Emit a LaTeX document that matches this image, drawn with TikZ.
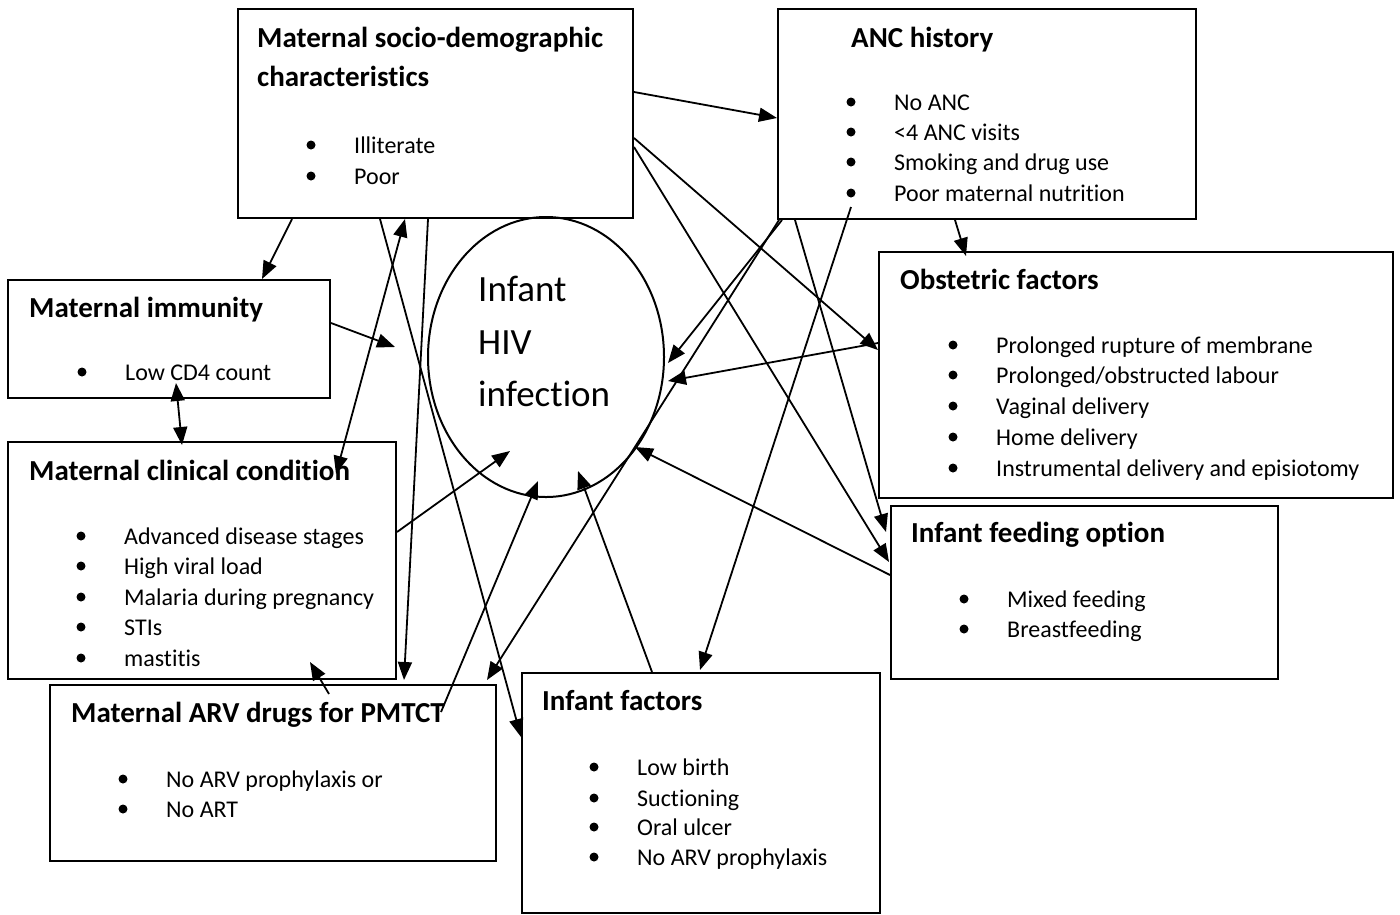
\documentclass[tikz,border=0pt]{standalone}
\usepackage{fontspec}
\setmainfont{Carlito}[Ligatures=NoCommon]
\usetikzlibrary{arrows.meta,calc,shapes.geometric}
\tikzset{
  box/.style={draw, line width=2pt, inner sep=0pt, anchor=north west},
  ttl/.style={inner sep=0pt, anchor=base west, font=\bfseries\fontsize{29}{34}\selectfont},
  itm/.style={inner sep=0pt, anchor=base west, font=\fontsize{24}{28}\selectfont},
  big/.style={inner sep=0pt, anchor=base west, font=\fontsize{37}{44}\selectfont},
  tipA/.tip={Triangle[length=18pt,width=14pt]},
  conn/.style={line width=1.8pt, -tipA},
  dconn/.style={line width=1.8pt, tipA-tipA},
}
\newcommand\bitem[3]{\node[itm] (#1) at (#2) {#3};
  \fill ($(#1.base west)+(-43,-8)$) circle (4.5);}
\begin{document}
\begin{tikzpicture}[x=1pt,y=-1pt]
\fill[white] (0,0) rectangle (1400,914);
\useasboundingbox (0,0) rectangle (1400,914);

% boxes
\node[box, minimum width=395pt, minimum height=209pt] (sd) at (237,8) {};
\node[box, minimum width=418pt, minimum height=210pt] (anc) at (777,8) {};
\node[box, minimum width=322pt, minimum height=118pt] (imm) at (7,279) {};
\node[box, minimum width=388pt, minimum height=237pt] (clin) at (7,441) {};
\node[box, minimum width=446pt, minimum height=176pt] (arv) at (49,684) {};
\node[box, minimum width=358pt, minimum height=240pt] (inf) at (521,672) {};
\node[box, minimum width=514pt, minimum height=246pt] (obs) at (878,251) {};
\node[box, minimum width=387pt, minimum height=173pt] (feed) at (890,505) {};
\node[draw, ellipse, line width=2pt, inner sep=0pt, minimum width=236pt, minimum height=280pt] (hiv) at (546,357) {};

% texts
\node[ttl] (sdT1) at (257,47) {Maternal socio-demographic};
\node[ttl] (sdT2) at (257,86) {characteristics};
\bitem{sd1}{354,153}{Illiterate}
\bitem{sd2}{354,184}{Poor}

\node[ttl] (ancT) at (851,47) {ANC history};
\bitem{anc1}{894,110}{No ANC}
\bitem{anc2}{894,140}{<4 ANC visits}
\bitem{anc3}{894,170}{Smoking and drug use}
\bitem{anc4}{894,201}{Poor maternal nutrition}

\node[ttl] (immT) at (29,317) {Maternal immunity};
\bitem{imm1}{125,380}{Low CD4 count}

\node[ttl] (clinT) at (29,480) {Maternal clinical condition};
\bitem{clin1}{124,544}{Advanced disease stages}
\bitem{clin2}{124,574}{High viral load}
\bitem{clin3}{124,605}{Malaria during pregnancy}
\bitem{clin4}{124,635}{STIs}
\bitem{clin5}{124,666}{mastitis}

\node[ttl] (arvT) at (71,722) {Maternal ARV drugs for PMTCT};
\bitem{arv1}{166,787}{No ARV prophylaxis or}
\bitem{arv2}{166,817}{No ART}

\node[ttl] (infT) at (542,710) {Infant factors};
\bitem{inf1}{637,775}{Low birth}
\bitem{inf2}{637,806}{Suctioning}
\bitem{inf3}{637,835}{Oral ulcer}
\bitem{inf4}{637,865}{No ARV prophylaxis}

\node[ttl] (obsT) at (900,289) {Obstetric factors};
\bitem{obs1}{996,353}{Prolonged rupture of membrane}
\bitem{obs2}{996,383}{Prolonged/obstructed labour}
\bitem{obs3}{996,414}{Vaginal delivery}
\bitem{obs4}{996,445}{Home delivery}
\bitem{obs5}{996,476}{Instrumental delivery and episiotomy}

\node[ttl] (feedT) at (911,542) {Infant feeding option};
\bitem{feed1}{1007,607}{Mixed feeding}
\bitem{feed2}{1007,637}{Breastfeeding}

\node[big] (hivT1) at (478,301) {Infant};
\node[big] (hivT2) at (478,354) {HIV};
\node[big] (hivT3) at (478,406) {infection};

% free ends
\coordinate (eImm)  at ($(hiv.center)+(-151,-10)$);
\coordinate (eClin) at ($(hiv.center)+(-36,94)$);
\coordinate (eArv)  at ($(hiv.center)+(-8,124)$);
\coordinate (eInf)  at ($(hiv.center)+(32,114)$);
\coordinate (eFeed) at ($(hiv.center)+(89,90)$);
\coordinate (eAnc)  at ($(hiv.center)+(122,6)$);
\coordinate (eObs)  at ($(hiv.center)+(122,24)$);

% connectors
\draw[conn] ($(sd.north east)+(0,84)$) -- ($(anc.north west)+(0,110)$);
\draw[conn] ($(sd.south west)+(55,0)$) -- ($(imm.north west)+(255,0)$);
\draw[conn] ($(imm.north east)+(0,44)$) -- (eImm);
\draw[dconn] ($(imm.south west)+(169,-16)$) -- ($(clin.north west)+(175,4)$);
\draw[dconn] ($(sd.south west)+(168,0)$) -- ($(clin.north west)+(329,33)$);
\draw[conn] ($(sd.south west)+(143,0)$) -- ($(inf.north west)+(0,65)$);
\draw[conn] ($(sd.south west)+(191,0)$) -- ($(arv.north west)+(355,-4)$);
\draw[conn] ($(clin.north east)+(0,91)$) -- (eClin);
\draw[conn] ($(arv.north west)+(280,10)$) -- ($(clin.south west)+(303,-18)$);
\draw[conn] ($(arv.north west)+(392,28)$) -- (eArv);
\draw[conn] ($(inf.north west)+(131,0)$) -- (eInf);
\draw[conn] ($(anc.south west)+(2,0)$) -- ($(arv.north east)+(-10,-4)$);
\draw[conn] ($(anc.south west)+(5,0)$) -- (eAnc);
\draw[conn] ($(anc.south west)+(18,0)$) -- ($(feed.north west)+(-4,27)$);
\draw[conn] ($(sd.north east)+(0,130)$) -- ($(obs.north west)+(0,99)$);
\draw[conn] ($(sd.north east)+(0,139)$) -- ($(feed.north west)+(-1,57)$);
\draw[conn] ($(anc.south west)+(178,0)$) -- ($(obs.north west)+(88,5)$);
\draw[conn] ($(anc.south west)+(74,-13)$) -- ($(inf.north west)+(179,-2)$);
\draw[conn] ($(feed.north west)+(0,70)$) -- (eFeed);
\draw[conn] ($(obs.north west)+(0,92)$) -- (eObs);
\end{tikzpicture}
\end{document}
